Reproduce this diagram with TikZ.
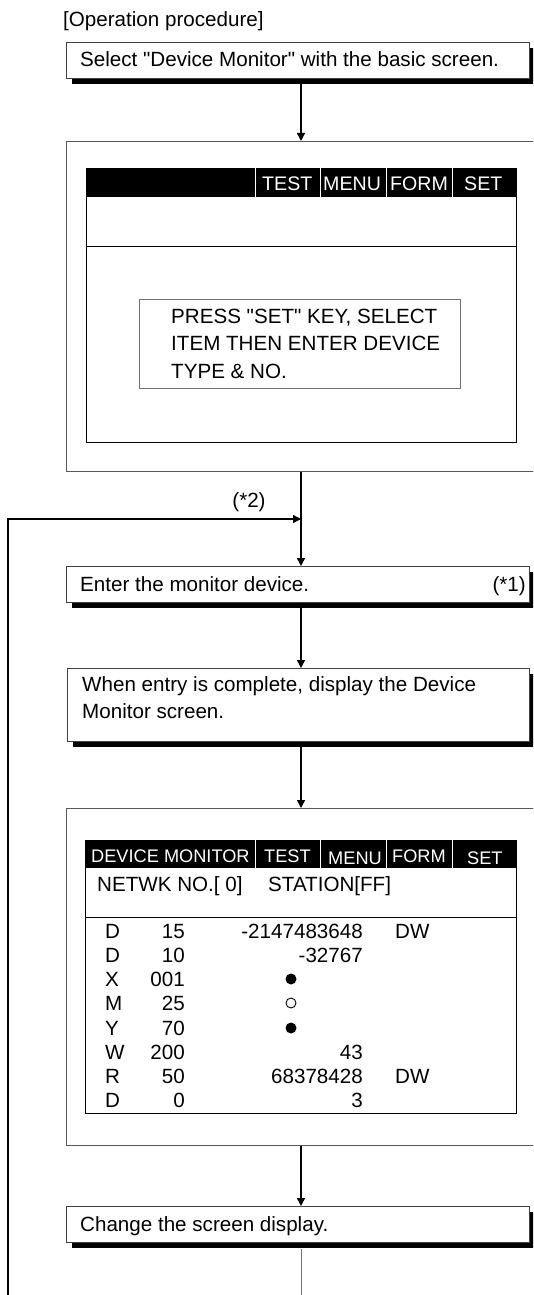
\documentclass[tikz,border=0pt]{standalone}
\usepackage{fontspec}
\newfontfamily\arial{Liberation Sans}
\usetikzlibrary{arrows.meta,shadows}
\begin{document}
\begin{tikzpicture}[x=1pt,y=-1pt,
  txt/.style={font=\arial\fontsize{20.6}{26}\selectfont, inner sep=0pt, anchor=base west},
  txtr/.style={txt, anchor=base east},
  hdr/.style={txt, text=white, font=\arial\fontsize{19.6}{24}\selectfont},
  hdrs/.style={hdr, font=\arial\fontsize{18.2}{24}\selectfont},
  flowbox/.style={draw=black!75, line width=0.8pt, fill=white, inner sep=0pt, anchor=north west,
    drop shadow={shadow xshift=6pt, shadow yshift=-6pt, fill=black, opacity=1, draw=none}},
  frame/.style={draw=black!65, line width=0.8pt, inner sep=0pt, anchor=north west},
  screen/.style={draw=black, line width=1.4pt, inner sep=0pt, anchor=north west},
  band/.style={fill=black, inner sep=0pt, anchor=north west},
  msgbox/.style={draw=black!55, line width=0.6pt, inner sep=0pt, anchor=north west},
  flow/.style={line width=1.4pt, -{Triangle[length=8pt,width=8pt]}},
  divider/.style={white, line width=0.8pt},
  sep/.style={black, line width=1pt},
  dotmark/.style={circle, inner sep=0pt, minimum size=11pt},
]
\useasboundingbox (0,0) rectangle (533,1295);
\clip (0,0) rectangle (533,1295);
\coordinate (ax) at (301,0);

% title
\node[txt] (title) at (63,27) {[Operation procedure]};

% box 1
\node[flowbox, minimum width=463pt, minimum height=36pt] (b1) at (66,42) {};
\node[txt] (t1) at (80,67) {Select "Device Monitor" with the basic screen.};

% outer frame 2 with screen 1
\node[frame, minimum width=480pt, minimum height=330pt] (b2) at (66,141) {};
\node[screen, minimum width=430pt, minimum height=274pt] (s1) at (86,168) {};
\node[band, minimum width=430pt, minimum height=29pt] (h1) at (86,168) {};
\draw[divider] (255,168) -- (255,197) (320,168) -- (320,197) (386,168) -- (386,197) (452,168) -- (452,197);
\node[hdr] (h1test) at (262,190) {TEST};
\node[hdr] (h1menu) at (323,190) {MENU};
\node[hdr] (h1form) at (390,190) {FORM};
\node[hdr] (h1set) at (464,190) {SET};
\draw[sep] (86,246) -- (516,246);
\node[msgbox, minimum width=321pt, minimum height=89pt] (msg) at (139,299) {};
\node[txt] (m1) at (171,323) {PRESS "SET" KEY, SELECT};
\node[txt] (m2) at (171,350) {ITEM THEN ENTER DEVICE};
\node[txt] (m3) at (171,378) {TYPE \& NO.};

% box 3
\node[flowbox, minimum width=463pt, minimum height=36pt] (b3) at (66,566) {};
\node[txt] (t3) at (80,591) {Enter the monitor device.};
\node[txtr] (t3n) at (526,591) {(*1)};

% box 4
\node[flowbox, minimum width=462pt, minimum height=73pt] (b4) at (67,668) {};
\node[txt] (t4a) at (82,691) {When entry is complete, display the Device};
\node[txt] (t4b) at (82,718) {Monitor screen.};

% outer frame 5 with screen 2
\node[frame, minimum width=480pt, minimum height=337pt] (b5) at (66,808) {};
\node[screen, minimum width=431pt, minimum height=273pt] (s2) at (85,840) {};
\node[band, minimum width=431pt, minimum height=28pt] (h2) at (85,840) {};
\draw[divider] (255,840) -- (255,868) (320,840) -- (320,868) (386,840) -- (386,868) (452,840) -- (452,868);
\node[hdrs] (h2dev) at (91,862) {DEVICE MONITOR};
\node[hdrs] (h2test) at (264,862) {TEST};
\node[hdrs] (h2menu) at (328,864) {MENU};
\node[hdrs] (h2form) at (392,862) {FORM};
\node[hdrs] (h2set) at (467,864) {SET};
\node[txt] (net) at (97,891) {NETWK NO.[ 0]};
\node[txt] (sta) at (268,891) {STATION[FF]};
\draw[sep] (85,917) -- (516,917);

% rows
\node[txt] (r1a) at (105,938) {D};  \node[txtr] (r1b) at (185,938) {15};  \node[txtr] (r1c) at (363,938) {-2147483648}; \node[txt] (r1d) at (395,938) {DW};
\node[txt] (r2a) at (105,962) {D};  \node[txtr] (r2b) at (185,962) {10};  \node[txtr] (r2c) at (363,962) {-32767};
\node[txt] (r3a) at (105,986) {X};  \node[txtr] (r3b) at (185,986) {001}; \node[dotmark, fill=black] (r3c) at (291,979) {};
\node[txt] (r4a) at (105,1010) {M}; \node[txtr] (r4b) at (185,1010) {25}; \node[dotmark, draw=black, line width=0.9pt, minimum size=10pt] (r4c) at (291,1003) {};
\node[txt] (r5a) at (105,1035) {Y}; \node[txtr] (r5b) at (185,1035) {70}; \node[dotmark, fill=black] (r5c) at (291,1028) {};
\node[txt] (r6a) at (105,1059) {W}; \node[txtr] (r6b) at (185,1059) {200}; \node[txtr] (r6c) at (363,1059) {43};
\node[txt] (r7a) at (105,1083) {R}; \node[txtr] (r7b) at (185,1083) {50}; \node[txtr] (r7c) at (363,1083) {68378428}; \node[txt] (r7d) at (395,1083) {DW};
\node[txt] (r8a) at (105,1107) {D}; \node[txtr] (r8b) at (185,1107) {0};  \node[txtr] (r8c) at (363,1107) {3};

% box 6
\node[flowbox, minimum width=463pt, minimum height=36pt] (b6) at (66,1206) {};
\node[txt] (t6) at (80,1231) {Change the screen display.};

% connectors
\coordinate (join) at (301,519);
\coordinate (fb) at (8,1300);
\coordinate (tail) at (301,1300);
\draw[flow] (b1.south -| ax) -- (b2.north -| ax);
\draw[line width=1.4pt] (b2.south -| ax) -- (join);
\draw[flow] (join) -- (b3.north -| ax);
\draw[flow] (fb) |- (join);
\node[txt, anchor=base] (lab2) at (249,507) {(*2)};
\draw[flow] (b3.south -| ax) -- (b4.north -| ax);
\draw[flow] (b4.south -| ax) -- (b5.north -| ax);
\draw[flow] (b5.south -| ax) -- (b6.north -| ax);
\draw[black!55, line width=0.8pt] ([yshift=-6pt]b6.south -| ax) -- (tail);
\end{tikzpicture}
\end{document}
